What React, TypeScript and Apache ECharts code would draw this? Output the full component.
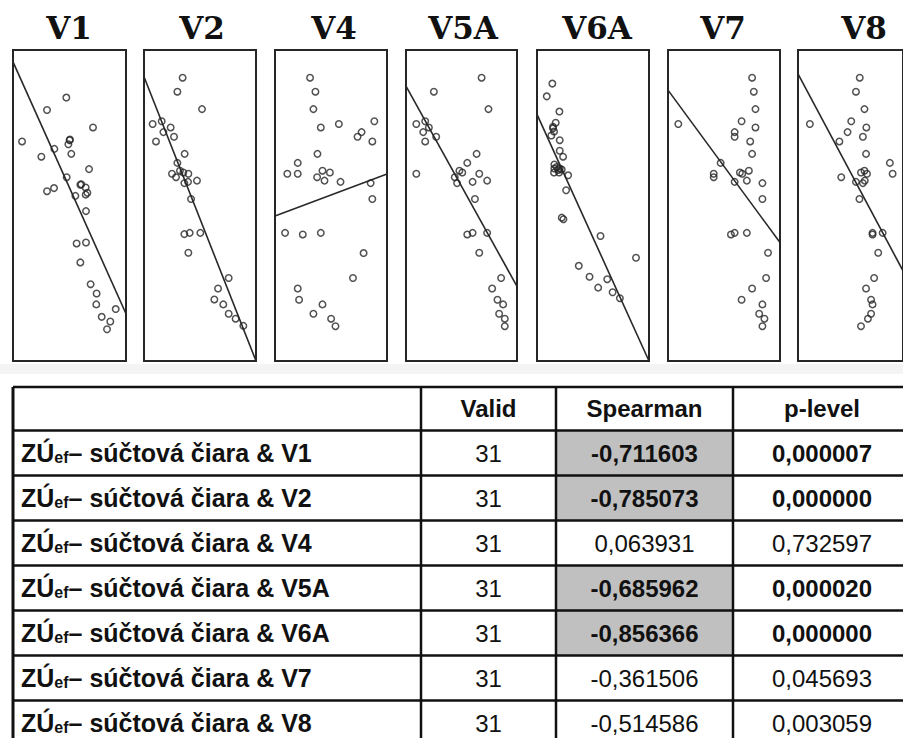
import React, { useEffect, useRef } from "react";
import * as echarts from "echarts";

// ---------- DATA ----------
const panelNames = ["V1", "V2", "V4", "V5A", "V6A", "V7", "V8"];

const pointsV1 = [
  [47.2, 84.7], [30.1, 80.7], [70.8, 75.1], [8.0, 70.6], [50.1, 71.0], [49.0, 69.7],
  [36.6, 68.2], [51.6, 66.6], [25.1, 65.7], [67.3, 61.7], [47.5, 59.1], [59.6, 56.7],
  [64.3, 55.8], [36.3, 55.6], [30.1, 54.6], [65.8, 54.1], [64.3, 53.5], [55.2, 53.1],
  [64.6, 48.2], [56.3, 37.8], [64.6, 38.1], [59.6, 31.7], [68.7, 24.7], [74.0, 21.7],
  [73.7, 18.2], [90.9, 16.7], [78.5, 14.2], [86.1, 12.7], [83.2, 10.2], [50.4, 71.2],
  [60.5, 56.8],
];
const pointsV2 = [
  [34.5, 91.1], [29.8, 86.6], [51.8, 81.0], [7.7, 76.2], [15.8, 77.1], [23.8, 75.1],
  [17.3, 73.6], [26.8, 72.1], [10.7, 70.6], [36.3, 66.6], [29.8, 63.7], [32.1, 61.2],
  [25.0, 60.2], [28.6, 59.1], [39.6, 60.2], [35.1, 60.6], [47.3, 58.0], [39.3, 57.6],
  [36.0, 57.2], [42.0, 52.1], [36.0, 40.8], [40.8, 41.2], [50.3, 41.2], [39.6, 34.8],
  [75.6, 26.7], [66.1, 23.3], [62.8, 19.8], [70.8, 18.2], [75.6, 15.2], [81.8, 13.6],
  [88.7, 11.3],
];
const pointsV4 = [
  [31.3, 91.1], [36.1, 86.6], [34.3, 81.0], [40.9, 75.1], [57.0, 76.2], [88.7, 77.1],
  [77.3, 73.6], [73.7, 72.1], [86.9, 70.6], [37.9, 66.6], [20.3, 63.7], [11.0, 60.2],
  [20.3, 60.2], [37.6, 59.1], [42.4, 61.2], [44.2, 58.0], [49.0, 60.6], [58.5, 57.6],
  [85.4, 57.2], [86.9, 52.1], [9.0, 41.2], [24.8, 40.7], [40.9, 41.2], [79.1, 34.7],
  [69.6, 26.7], [20.3, 23.3], [21.5, 19.7], [42.4, 18.2], [34.3, 15.2], [50.1, 13.6],
  [54.0, 11.2],
];
const pointsV5A = [
  [68.1, 91.1], [25.1, 86.6], [74.3, 81.0], [9.3, 76.2], [17.3, 77.1], [20.6, 75.1],
  [15.5, 73.6], [27.2, 72.1], [17.3, 70.6], [63.6, 66.6], [55.2, 63.7], [9.3, 60.2],
  [48.1, 61.2], [50.7, 60.6], [43.9, 59.1], [66.0, 60.2], [73.1, 58.0], [60.0, 57.6],
  [46.0, 57.2], [62.1, 52.1], [55.2, 40.7], [60.0, 41.2], [73.1, 41.2], [66.0, 34.8],
  [85.7, 26.7], [77.6, 23.3], [82.4, 19.7], [87.5, 18.2], [83.9, 15.2], [89.0, 13.6],
  [89.0, 11.2],
];
const pointsV6A = [
  [13.7, 89.2], [8.7, 85.1], [20.0, 80.2], [16.7, 76.6], [14.3, 75.3], [15.2, 73.8],
  [12.8, 72.5], [20.3, 71.0], [20.3, 67.6], [23.3, 65.7], [15.5, 63.2], [15.5, 61.9],
  [15.2, 60.6], [20.3, 61.9], [22.1, 61.6], [19.7, 60.6], [27.8, 59.7], [26.0, 54.9],
  [22.1, 46.1], [23.6, 45.6], [56.7, 40.2], [88.4, 33.2], [37.3, 30.6], [46.9, 27.1],
  [62.7, 26.3], [54.6, 23.6], [67.5, 22.1], [74.0, 20.2], [17.6, 62.4], [14.3, 74.8],
  [18.8, 61.4],
];
const pointsV7 = [
  [75.1, 91.1], [76.6, 86.6], [78.1, 81.0], [65.7, 77.1], [78.1, 75.1], [9.2, 76.2],
  [59.5, 73.6], [59.5, 72.1], [73.4, 70.6], [75.1, 66.6], [40.8, 60.2], [40.8, 59.1],
  [47.0, 63.7], [64.2, 60.6], [66.3, 60.2], [72.2, 61.2], [70.4, 58.0], [59.5, 57.6],
  [84.3, 57.2], [84.3, 52.1], [56.2, 40.7], [59.5, 41.2], [70.4, 41.2], [89.3, 34.8],
  [87.6, 26.7], [75.1, 23.3], [65.7, 19.7], [84.3, 18.2], [81.4, 15.2], [86.1, 13.6],
  [84.3, 11.2],
];
const pointsV8 = [
  [58.8, 91.1], [55.2, 86.6], [63.3, 81.0], [11.3, 76.2], [50.7, 77.1], [65.1, 75.1],
  [47.2, 73.6], [61.8, 72.1], [39.4, 70.6], [64.8, 66.6], [87.5, 63.7], [90.1, 60.2],
  [41.2, 59.1], [60.0, 60.6], [63.3, 61.2], [65.7, 60.2], [55.2, 57.6], [61.8, 57.2],
  [63.6, 58.0], [58.5, 52.1], [71.0, 41.2], [71.0, 40.7], [80.6, 41.2], [76.4, 34.8],
  [72.5, 26.7], [64.8, 23.3], [69.6, 19.7], [71.0, 18.2], [69.6, 15.2], [66.6, 13.6],
  [60.0, 11.2],
];
const panelPoints = [pointsV1, pointsV2, pointsV4, pointsV5A, pointsV6A, pointsV7, pointsV8];

// regression line: value at left edge (x=0) and right edge (x=100)
const lineStartY = [96.2, 91.4, 46.6, 88.4, 79.3, 87.1, 92.3];
const lineEndY = [15.2, 0, 60.1, 24.0, 0, 38.1, 29.0];

// table
const tableHeaders = ["Valid", "Spearman", "p-level"];
const validN = [31, 31, 31, 31, 31, 31, 31];
const spearman = [-0.711603, -0.785073, 0.063931, -0.685962, -0.856366, -0.361506, -0.514586];
const pLevel = [0.000007, 0.0, 0.732597, 0.00002, 0.0, 0.045693, 0.003059];
const highlighted = [true, true, false, true, true, false, false];

// ---------- LAYOUT ----------
const panelLeft = [13, 144, 275, 406, 537, 668, 798];
const panelWidth = [113, 112, 112, 111, 112, 112, 113];
const panelTop = 50;
const panelHeight = 311;
const titleCenterX = [69, 202, 334, 463, 597, 723, 864];
const titleY = 28;

const tableTop = 387;
const headerH = 43.5;
const rowH = 45;
const colX = [13, 421, 556, 733, 911];
const labelX = 21;

const fmt = (v: number) => v.toFixed(6).replace(".", ",");

export default function App() {
  const ref = useRef<HTMLDivElement>(null);
  useEffect(() => {
    if (!ref.current) return;
    const chart = echarts.init(ref.current, undefined, { renderer: "svg" });

    const grids: any[] = [];
    const xAxes: any[] = [];
    const yAxes: any[] = [];
    const series: any[] = [];
    const graphics: any[] = [];

    panelNames.forEach((name, i) => {
      grids.push({
        left: panelLeft[i],
        top: panelTop,
        width: panelWidth[i],
        height: panelHeight,
        show: true,
        backgroundColor: "#ffffff",
        borderColor: "#262626",
        borderWidth: 2,
      });
      const axisCommon = {
        type: "value",
        min: 0,
        max: 100,
        gridIndex: i,
        show: false,
        splitLine: { show: false },
        axisLine: { show: false },
        axisTick: { show: false },
        axisLabel: { show: false },
      };
      xAxes.push({ ...axisCommon });
      yAxes.push({ ...axisCommon });
      series.push({
        type: "scatter",
        name: name + " points",
        xAxisIndex: i,
        yAxisIndex: i,
        data: panelPoints[i],
        symbol: "circle",
        symbolSize: 6.5,
        itemStyle: { color: "rgba(255,255,255,0)", borderColor: "#262626", borderWidth: 1.5 },
        z: 3,
      });
      series.push({
        type: "line",
        name: name + " fit",
        xAxisIndex: i,
        yAxisIndex: i,
        data: [
          [0, lineStartY[i]],
          [100, lineEndY[i]],
        ],
        symbol: "none",
        lineStyle: { color: "#282828", width: 1.6 },
        z: 2,
      });
      graphics.push({
        type: "text",
        x: titleCenterX[i],
        y: titleY,
        style: {
          text: name,
          fontFamily: "DejaVu Serif",
          fontWeight: "bold",
          fontSize: 31,
          fill: "#111",
          align: "center",
          verticalAlign: "middle",
        },
      });
    });

    // light strip between plots and table
    graphics.push({
      type: "rect",
      shape: { x: 0, y: 364, width: 903, height: 10 },
      style: { fill: "#f4f4f4" },
    });

    // gray cells
    panelNames.forEach((_, r) => {
      if (highlighted[r]) {
        graphics.push({
          type: "rect",
          shape: { x: colX[2], y: tableTop + headerH + r * rowH, width: colX[3] - colX[2], height: rowH },
          style: { fill: "#c0c0c0" },
        });
      }
    });

    const tableBottom = tableTop + headerH + panelNames.length * rowH;
    const hLines = [tableTop, ...panelNames.map((_, r) => tableTop + headerH + r * rowH), tableBottom];
    hLines.forEach((y) => {
      graphics.push({
        type: "line",
        shape: { x1: colX[0], y1: y, x2: colX[4], y2: y },
        style: { stroke: "#111", lineWidth: 2.5 },
      });
    });
    colX.forEach((x, k) => {
      graphics.push({
        type: "line",
        shape: { x1: x, y1: tableTop, x2: x, y2: tableBottom },
        style: { stroke: "#111", lineWidth: k === 0 ? 3 : 2.5 },
      });
    });

    // headers
    tableHeaders.forEach((h, k) => {
      graphics.push({
        type: "text",
        x: (colX[k + 1] + colX[k + 2]) / 2,
        y: tableTop + headerH / 2,
        style: {
          text: h,
          fontFamily: "Liberation Sans",
          fontWeight: "bold",
          fontSize: 24,
          fill: "#111",
          align: "center",
          verticalAlign: "middle",
        },
      });
    });

    // rows
    panelNames.forEach((name, r) => {
      const cy = tableTop + headerH + r * rowH + rowH / 2;
      graphics.push({
        type: "text",
        x: labelX,
        y: cy - 2,
        style: {
          text: "{m|ZÚ}{s|ef}{m|– súčtová čiara & " + name + "}",
          align: "left",
          verticalAlign: "middle",
          fill: "#111",
          rich: {
            m: {
              fontFamily: "Liberation Sans",
              fontWeight: "bold",
              fontSize: 25,
              lineHeight: 28,
              verticalAlign: "bottom",
              fill: "#111",
            },
            s: {
              fontFamily: "Liberation Sans",
              fontWeight: "bold",
              fontSize: 16,
              lineHeight: 12,
              verticalAlign: "bottom",
              fill: "#111",
            },
          },
        },
      });
      const cells = [String(validN[r]), fmt(spearman[r]), fmt(pLevel[r])];
      cells.forEach((t, k) => {
        graphics.push({
          type: "text",
          x: (colX[k + 1] + colX[k + 2]) / 2,
          y: cy,
          style: {
            text: t,
            fontFamily: "Liberation Sans",
            fontWeight: k > 0 && highlighted[r] ? "bold" : "normal",
            fontSize: 24,
            fill: "#111",
            align: "center",
            verticalAlign: "middle",
          },
        });
      });
    });

    chart.setOption({
      animation: false,
      backgroundColor: "#ffffff",
      grid: grids,
      xAxis: xAxes,
      yAxis: yAxes,
      series,
      graphic: { elements: graphics },
    });
    return () => chart.dispose();
  }, []);

  return (
    <div
      ref={ref}
      style={{ position: "absolute", left: 0, top: 0, width: 903, height: 738, background: "#fff" }}
    />
  );
}
